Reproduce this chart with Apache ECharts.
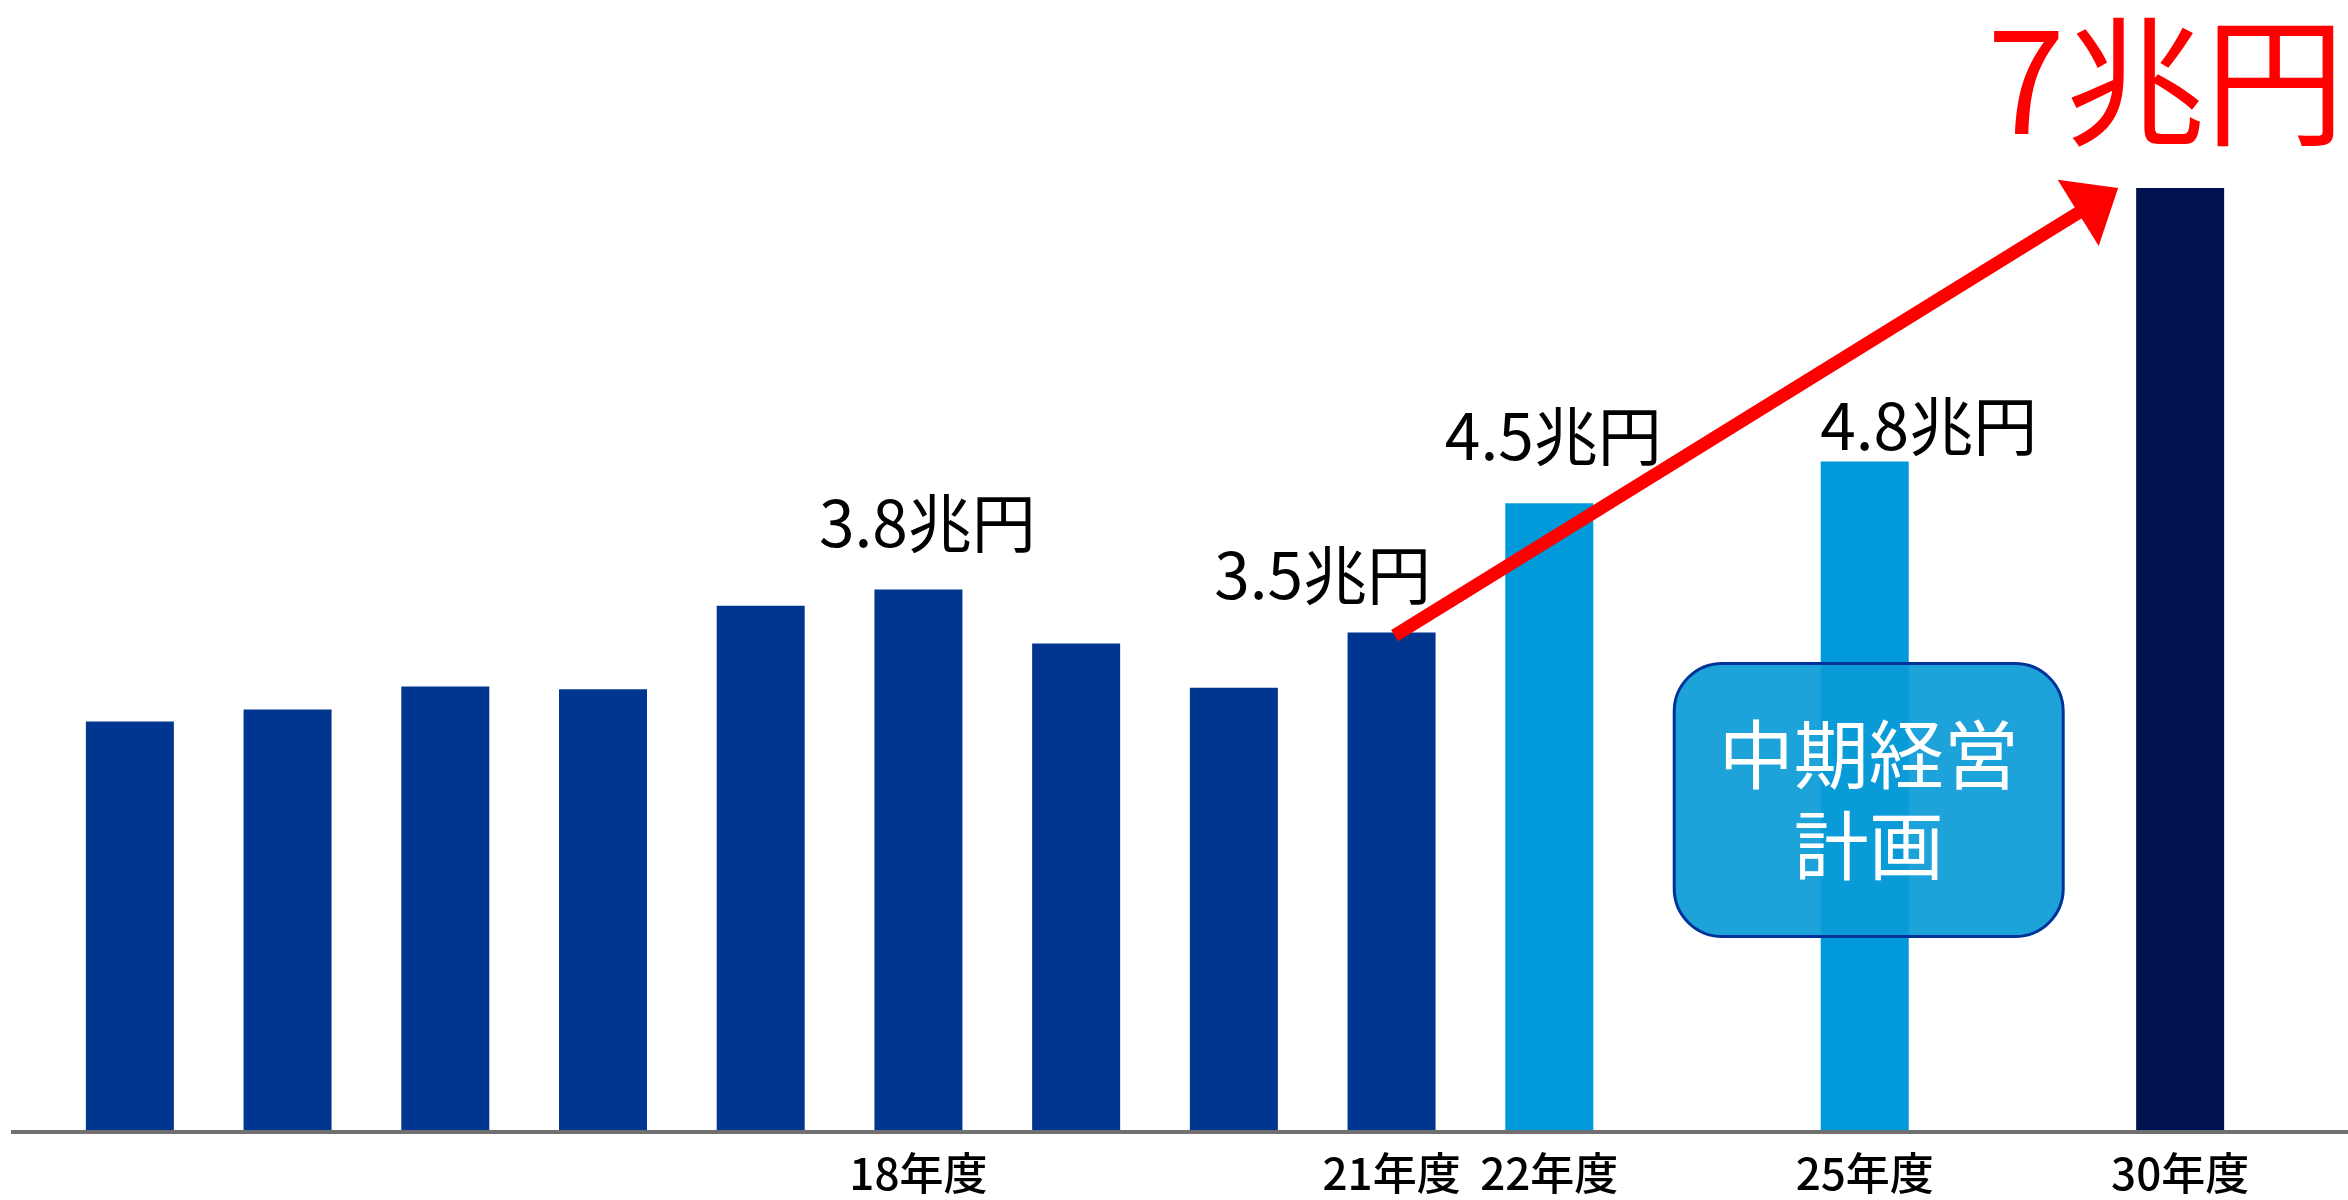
<!DOCTYPE html>
<html lang="ja">
<head>
    <meta charset="utf-8" />
    <title>売上高の推移</title>
    <script src="https://cdn.jsdelivr.net/npm/echarts@6/dist/echarts.min.js"></script>
    <style>
        html, body { margin: 0; padding: 0; background: #fff; }
        #main { width: 2348px; height: 1200px; }
    </style>
</head>
<body>
    <div id="main"></div>
    <script type="text/javascript">
        // 年度（空白の2つはすき間）
        var categories = ['13年度', '14年度', '15年度', '16年度', '17年度', '18年度', '19年度', '20年度', '21年度', '22年度', ' ', '25年度', '  ', '30年度'];
        // 軸に出す年度だけ
        var tickLabels = ['', '', '', '', '', '18年度', '', '', '21年度', '22年度', '', '25年度', '', '30年度'];
        // 棒の高さ（兆円、図から読み取り）
        var values = [3.04, 3.13, 3.30, 3.28, 3.90, 4.02, 3.62, 3.29, 3.70, 4.66, null, 4.97, null, 7.0];
        // 実績 / 計画 / 目標
        var kinds = ['実績', '実績', '実績', '実績', '実績', '実績', '実績', '実績', '実績', '計画', null, '計画', null, '目標'];
        var valueLabels = ['', '', '', '', '', '3.8兆円', '', '', '3.5兆円', '4.5兆円', '', '4.8兆円', '', '7兆円'];
        var planText = ['中期経営', '計画'];

        var FONT = '"Noto Sans CJK JP", "Noto Sans", sans-serif';
        var kindColor = { '実績': '#00368F', '計画': '#0099DA', '目標': '#00124F' };
        // ラベル位置の微調整 [dx, 棒からの距離]
        var labelPos = { 5: [9, 35], 8: [-69, 26], 9: [4, 36], 11: [64, 4], 13: [-14, 37] };

        var seriesData = values.map(function (v, i) {
            var item = { value: v, itemStyle: { color: kindColor[kinds[i]] } };
            if (valueLabels[i]) {
                var p = labelPos[i];
                item.label = { show: true, formatter: valueLabels[i], offset: [p[0], 0], distance: p[1] };
                if (kinds[i] === '目標') {
                    item.label.fontSize = 140;
                    item.label.color = '#FF0000';
                }
            }
            return item;
        });

        var myChart = echarts.init(document.getElementById('main'));
        var option = {
            animation: false,
            textStyle: { fontFamily: FONT },
            grid: { left: 51, right: 89, top: 53.4, bottom: 69 },
            xAxis: {
                type: 'category',
                data: categories,
                axisLine: { show: false },
                axisTick: { show: false },
                axisLabel: {
                    interval: 0,
                    margin: 20,
                    fontSize: 44,
                    fontWeight: 500,
                    color: '#000',
                    fontFamily: FONT,
                    formatter: function (v, i) { return tickLabels[i]; }
                }
            },
            yAxis: { type: 'value', min: 0, max: 8, show: false },
            series: [{
                type: 'bar',
                barWidth: 88,
                data: seriesData,
                label: {
                    show: false,
                    position: 'top',
                    fontSize: 64,
                    color: '#000',
                    fontFamily: FONT
                }
            }]
        };
        myChart.setOption(option);

        function drawExtras() {
            var base = myChart.convertToPixel({ gridIndex: 0 }, [0, 0]);
            var from = myChart.convertToPixel({ gridIndex: 0 }, [8, values[8]]);
            var goal = myChart.convertToPixel({ gridIndex: 0 }, [13, values[13]]);
            var plan = myChart.convertToPixel({ gridIndex: 0 }, [11, 0]);

            // 矢印
            var tail = [from[0] + 3, from[1] + 3];
            var tip = [goal[0] - 62, goal[1]];
            var dx = tip[0] - tail[0], dy = tip[1] - tail[1];
            var len = Math.sqrt(dx * dx + dy * dy);
            var ux = dx / len, uy = dy / len;
            var headLen = 47, headHalf = 39;
            var mid = [tip[0] - ux * headLen, tip[1] - uy * headLen];
            var px = -uy, py = ux;

            var boxW = 389, boxH = 273;
            var cx = plan[0] + 4, cy = base[1] - 331;

            myChart.setOption({
                graphic: [
                    {
                        type: 'line', z: 10,
                        shape: { x1: 11, y1: base[1] + 1, x2: 2348, y2: base[1] + 1 },
                        style: { stroke: '#707070', lineWidth: 4 }
                    },
                    {
                        type: 'rect', z: 20,
                        shape: { x: cx - boxW / 2, y: cy - boxH / 2, width: boxW, height: boxH, r: 48 },
                        style: { fill: 'rgba(10,155,215,0.92)', stroke: '#003399', lineWidth: 3 }
                    },
                    {
                        type: 'text', z: 21,
                        style: {
                            text: planText.join('\n'),
                            x: cx, y: cy,
                            align: 'center', verticalAlign: 'middle',
                            fontSize: 75, lineHeight: 91,
                            fontFamily: FONT,
                            fill: '#fff'
                        }
                    },
                    {
                        type: 'line', z: 30,
                        shape: { x1: tail[0], y1: tail[1], x2: mid[0] + ux * 6, y2: mid[1] + uy * 6 },
                        style: { stroke: '#FF0000', lineWidth: 13 }
                    },
                    {
                        type: 'polygon', z: 30,
                        shape: {
                            points: [
                                tip,
                                [mid[0] + px * headHalf, mid[1] + py * headHalf],
                                [mid[0] - px * headHalf, mid[1] - py * headHalf]
                            ]
                        },
                        style: { fill: '#FF0000' }
                    }
                ]
            });
        }
        drawExtras();

        window.onresize = function () {
            myChart.resize();
            drawExtras();
        };
    </script>
</body>
</html>
